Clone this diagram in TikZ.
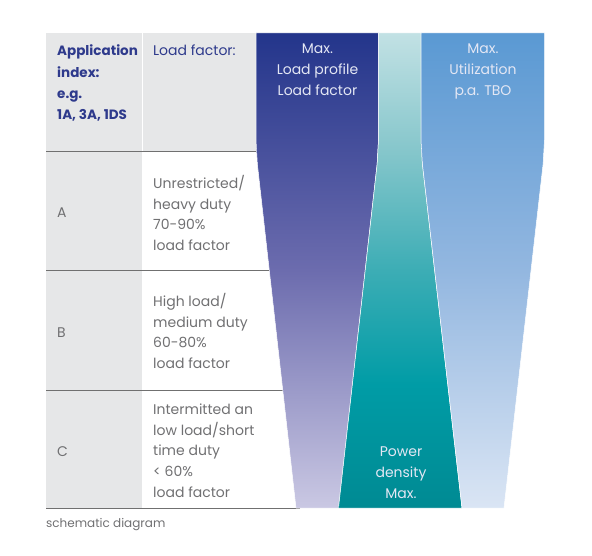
\documentclass[tikz,border=0pt]{standalone}
\usepackage{fontspec}
\setmainfont{Poppins}
\definecolor{hblue}{HTML}{2E3A8C}
\definecolor{tgray}{HTML}{707072}
\definecolor{colgray}{HTML}{E6E7E8}
\definecolor{linegray}{HTML}{707070}
\definecolor{lightTxt}{HTML}{E4E7F4}
\definecolor{lb}{HTML}{CAC8E3}
\definecolor{lmid}{HTML}{6C6CAE}
\definecolor{lt}{HTML}{23358B}
\definecolor{tb}{HTML}{008A93}
\definecolor{tm1}{HTML}{009CA6}
\definecolor{tm2}{HTML}{3CADB5}
\definecolor{tm3}{HTML}{85C6CB}
\definecolor{tt}{HTML}{C2E1E4}
\definecolor{rb}{HTML}{DAE5F4}
\definecolor{rm}{HTML}{93B7E0}
\definecolor{rt}{HTML}{5A99D3}
\pgfdeclareverticalshading{leftshade}{100bp}{color(0bp)=(lb); color(25bp)=(lb); color(50bp)=(lmid); color(75bp)=(lt); color(100bp)=(lt)}
\pgfdeclareverticalshading{tealshade}{100bp}{color(0bp)=(tb); color(25bp)=(tb); color(38bp)=(tm1); color(50bp)=(tm2); color(62.5bp)=(tm3); color(75bp)=(tt); color(100bp)=(tt)}
\pgfdeclareverticalshading{rightshade}{100bp}{color(0bp)=(rb); color(25bp)=(rb); color(50bp)=(rm); color(75bp)=(rt); color(100bp)=(rt)}
\newcommand{\lnsleft}[1]{\parbox[t]{150pt}{\raggedright #1}}
\newcommand{\lnscenter}[1]{\parbox[t]{150pt}{\centering #1}}
\tikzset{
  txt/.style={anchor=base west, inner sep=0pt, text=tgray, font=\fontsize{14}{20.7}\selectfont},
  hdr/.style={anchor=base west, inner sep=0pt, text=hblue, font=\fontsize{14}{21.2}\selectfont},
  shtxt/.style={anchor=base, inner sep=0pt, text=lightTxt, font=\fontsize{14}{21}\selectfont},
  rowline/.style={draw=linegray, line width=1pt},
  band/.style={draw=white, line width=0.5pt}
}
\begin{document}
\begin{tikzpicture}[x=1pt, y=-1pt]
\useasboundingbox (0,0) rectangle (592,556);
% table backgrounds
\fill[colgray] (46,33) rectangle (141.5,508);
\fill[colgray] (143,33) rectangle (300,152);
% row lines
\draw[rowline] (46,152) -- (300,152);
\draw[rowline] (46,271) -- (300,271);
\draw[rowline] (46,390) -- (300,390);
\draw[rowline] (46,508) -- (300,508);
% bands
\draw[band, shading=leftshade] (256,33) -- (378.5,33) -- (378.5,140) .. controls (378.5,152) .. (377.15,164) -- (338.5,508) -- (296,508) -- (257.35,164) .. controls (256,152) .. (256,140) -- cycle;
\draw[band, shading=tealshade] (378.5,33) -- (421,33) -- (421,140) .. controls (421,152) .. (422.4,164) -- (462,508) -- (338.5,508) -- (377.15,164) .. controls (378.5,152) .. (378.5,140) -- cycle;
\draw[band, shading=rightshade] (421,33) -- (544.5,33) -- (544.5,140) .. controls (544.5,152) .. (543.1,164) -- (504,508) -- (462,508) -- (422.4,164) .. controls (421,152) .. (421,140) -- cycle;
% header texts
\node[hdr, font=\fontsize{13.5}{21.2}\selectfont\bfseries] (appidx) at (57,56) {\lnsleft{Application\\index:\\e.g.\\1A, 3A, 1DS}};
\node[hdr] (lfhead) at (153,56) {Load factor:};
\node[shtxt] (maxload) at (317.5,54) {\lnscenter{Max.\\Load profile\\Load factor}};
\node[shtxt] (maxutil) at (483,54) {\lnscenter{Max.\\Utilization\\p.a. TBO}};
\node[shtxt] (power) at (401,456.5) {\lnscenter{Power\\density\\Max.}};
% rows
\node[txt] (ra) at (57,217.5) {A};
\node[txt] (rb) at (57,337.5) {B};
\node[txt] (rc) at (57,456) {C};
\node[txt] (ta) at (153,188.5) {\lnsleft{Unrestricted/\\heavy duty\\70-90\%\\load factor}};
\node[txt] (tbb) at (153,306.5) {\lnsleft{High load/\\medium duty\\60-80\%\\load factor}};
\node[txt] (tc) at (153,414.5) {\lnsleft{Intermitted an\\low load/short\\time duty\\< 60\%\\load factor}};
\node[txt, font=\fontsize{12}{14}\selectfont] (caption) at (46,527.5) {schematic diagram};
\end{tikzpicture}
\end{document}
